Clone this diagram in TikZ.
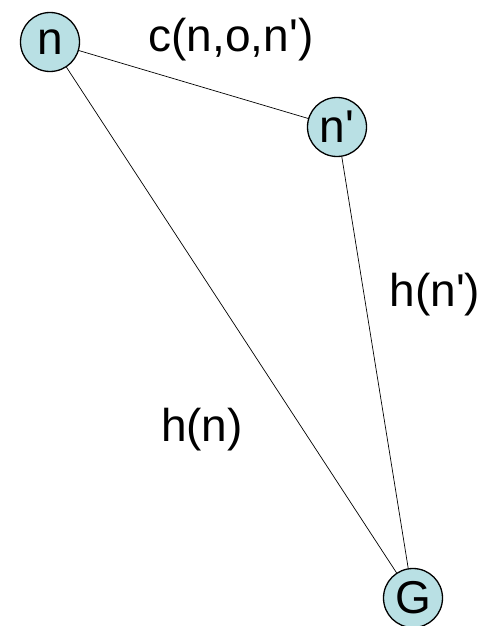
\documentclass[tikz,border=0pt]{standalone}
\usepackage{fontspec}
\setmainfont{Liberation Sans}[Ligatures=TeXOff]
\usetikzlibrary{positioning}
\definecolor{estado}{RGB}{185,224,228}

\begin{document}
\begin{tikzpicture}[x=1pt, y=-1pt,
    estadonode/.style={circle, draw, line width=1.3pt, fill=estado, minimum size=59pt, inner sep=0pt, font=\fontsize{46}{50}\selectfont},
    rotulo/.style={font=\fontsize{46}{50}\selectfont, inner sep=0pt}]
    \useasboundingbox (0,0) rectangle (494,626);
    % estados
    \node[estadonode] (n) at (50,42) {n};
    \node[estadonode] (np) at (337,127) {n'};
    \node[estadonode] (G) at (413,598) {G};
    % arestas
    \draw[line width=0.7pt] (n) -- (np);
    \draw[line width=0.7pt] (n) -- (G);
    \draw[line width=0.7pt] (np) -- (G);
    % custos
    \node[rotulo] (c) at (231,40) {c(n,o,n')};
    \node[rotulo] (hnp) at (435,295) {h(n')};
    \node[rotulo] (hn) at (202,430) {h(n)};
\end{tikzpicture}
\end{document}
